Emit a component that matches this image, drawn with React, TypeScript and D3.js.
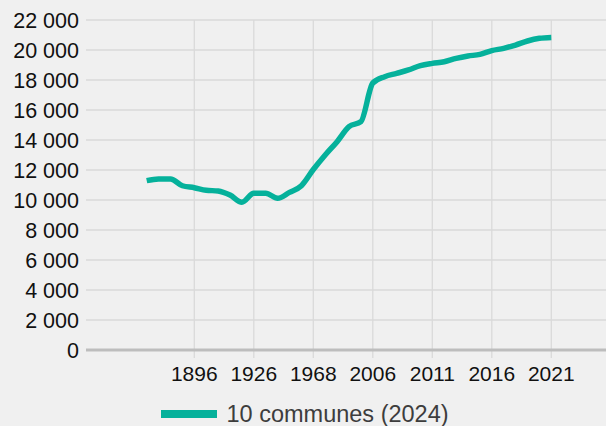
import React, { useEffect, useRef } from "react";
import * as d3 from "d3";

const years = [
  "1876", "1881", "1886", "1891", "1896", "1901", "1906", "1911", "1921", "1926",
  "1931", "1936", "1954", "1962", "1968", "1975", "1982", "1990", "1999", "2006",
  "2007", "2008", "2009", "2010", "2011", "2012", "2013", "2014", "2015", "2016",
  "2017", "2018", "2019", "2020", "2021",
];

const population = [
  11290, 11400, 11400, 10950, 10820, 10650, 10600, 10330, 9850, 10450,
  10450, 10110, 10510, 10950, 12030, 13000, 13890, 14890, 15220, 17800,
  18220, 18440, 18670, 18960, 19110, 19220, 19440, 19600, 19710, 19960,
  20110, 20330, 20600, 20780, 20840,
];

const xTickLabels = ["1896", "1926", "1968", "2006", "2011", "2016", "2021"];
const yTicks = [0, 2000, 4000, 6000, 8000, 10000, 12000, 14000, 16000, 18000, 20000, 22000];
const seriesName = "10 communes (2024)";

const W = 606;
const H = 426;
const lineColor = "#05b19b";
const font = "'Liberation Sans', Arial, Helvetica, sans-serif";

export default function App() {
  const ref = useRef<SVGSVGElement>(null);

  useEffect(() => {
    const svg = d3.select(ref.current);
    svg.selectAll("*").remove();

    const x = d3.scalePoint<string>().domain(years).range([146.7, 551.3]);
    const y = d3.scaleLinear().domain([0, 22000]).range([350, 20]);
    const left = 86;

    svg.append("rect").attr("width", W).attr("height", H).attr("fill", "#f0f0f0");

    // horizontal grid
    svg.append("g")
      .selectAll("line")
      .data(yTicks.filter(d => d > 0))
      .join("line")
      .attr("x1", left)
      .attr("x2", W)
      .attr("y1", d => y(d))
      .attr("y2", d => y(d))
      .attr("stroke", "#dadada")
      .attr("stroke-width", 1.3);

    // vertical grid + ticks
    svg.append("g")
      .selectAll("line")
      .data(xTickLabels)
      .join("line")
      .attr("x1", d => x(d)!)
      .attr("x2", d => x(d)!)
      .attr("y1", y(22000))
      .attr("y2", 358)
      .attr("stroke", "#dadada")
      .attr("stroke-width", 1.3);

    // x axis line
    svg.append("line")
      .attr("x1", left)
      .attr("x2", W)
      .attr("y1", y(0))
      .attr("y2", y(0))
      .attr("stroke", "#bdbdbd")
      .attr("stroke-width", 3);

    const fmt = (v: number) => d3.format(",")(v).replace(/,/g, " ");

    svg.append("g")
      .selectAll("text")
      .data(yTicks)
      .join("text")
      .attr("x", 79)
      .attr("y", d => y(d))
      .attr("dy", "0.36em")
      .attr("text-anchor", "end")
      .attr("font-family", font)
      .attr("font-size", 21.5)
      .attr("fill", "#111")
      .text(d => fmt(d));

    svg.append("g")
      .selectAll("text")
      .data(xTickLabels)
      .join("text")
      .attr("x", d => x(d)!)
      .attr("y", 381)
      .attr("text-anchor", "middle")
      .attr("font-family", font)
      .attr("font-size", 21)
      .attr("fill", "#111")
      .text(d => d);

    const line = d3.line<number>()
      .x((_, i) => x(years[i])!)
      .y(d => y(d))
      .curve(d3.curveMonotoneX);

    svg.append("path")
      .datum(population)
      .attr("d", line)
      .attr("fill", "none")
      .attr("stroke", lineColor)
      .attr("stroke-width", 5.5);

    // legend
    const lg = svg.append("g");
    lg.append("rect")
      .attr("x", 161)
      .attr("y", 410)
      .attr("width", 56)
      .attr("height", 8)
      .attr("fill", lineColor);
    lg.append("text")
      .attr("x", 226.5)
      .attr("y", 422)
      .attr("font-family", font)
      .attr("font-size", 23.5)
      .attr("fill", "#3d3d3d")
      .text(seriesName);
  }, []);

  return (
    <>
      <style>{"body{margin:0}"}</style>
      <svg ref={ref} width={W} height={H} style={{ display: "block" }} />
    </>
  );
}
